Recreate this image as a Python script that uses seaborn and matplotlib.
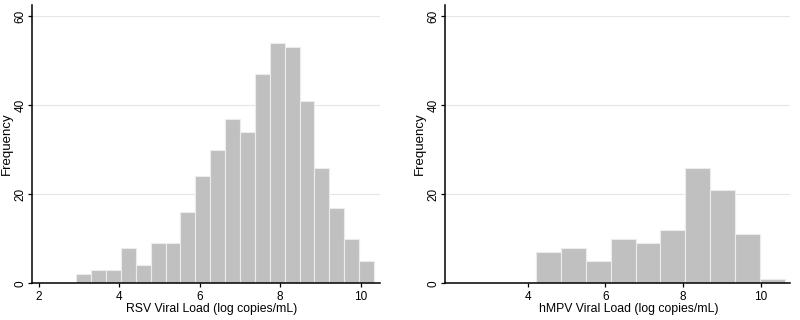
import matplotlib
matplotlib.use("Agg")
import matplotlib.pyplot as plt
import numpy as np
import pandas as pd
import seaborn as sns

# bar counts
rsv_counts = [2, 3, 3, 8, 4, 9, 9, 16, 24, 30, 37, 34, 47, 54, 53, 41, 26, 17, 10, 5]
rsv_range = (2.93, 10.33)
hmpv_counts = [7, 8, 5, 10, 9, 12, 26, 21, 11, 1]
hmpv_range = (4.22, 10.62)

rsv_label = "RSV Viral Load (log copies/mL)"
hmpv_label = "hMPV Viral Load (log copies/mL)"
y_ticks = [0, 20, 40, 60]
rsv_xticks = [2, 4, 6, 8, 10]
hmpv_xticks = [4, 6, 8, 10]


def draw(ax, counts, rng, xlabel, xticks, xlim, label_x):
    edges = np.linspace(rng[0], rng[1], len(counts) + 1)
    df = pd.DataFrame({"load": (edges[:-1] + edges[1:]) / 2, "n": counts})
    sns.histplot(data=df, x="load", weights="n", bins=edges.tolist(), ax=ax,
                 color="#c0c0c0", alpha=1, edgecolor="#ececec", linewidth=0.8)
    ax.set_xlim(*xlim)
    ax.set_ylim(0, 62.5)
    ax.set_yticks(y_ticks)
    ax.set_xticks(xticks)
    ax.set_yticklabels([str(t) for t in y_ticks], rotation=90, va="center")
    ax.set_xlabel(xlabel, fontsize=8.8, labelpad=0, color="black")
    ax.xaxis.label.set_x(label_x)
    ax.set_ylabel("Frequency", fontsize=9.5, labelpad=1, color="black")
    ax.grid(axis="y", color="#e6e6e6", linewidth=0.8)
    ax.grid(axis="x", visible=False)
    ax.set_axisbelow(True)
    for side in ("top", "right"):
        ax.spines[side].set_visible(False)
    for side in ("left", "bottom"):
        ax.spines[side].set_color("black")
        ax.spines[side].set_linewidth(1.1)
    ax.tick_params(axis="both", bottom=True, left=True, direction="out",
                   length=3, width=0.9, color="black", labelcolor="black",
                   labelsize=8.5)
    ax.tick_params(axis="x", pad=2.5)
    ax.tick_params(axis="y", pad=1)


sns.set_style("white")
plt.rcParams["font.family"] = ["Liberation Sans", "DejaVu Sans"]

fig = plt.figure(figsize=(8, 3.2), dpi=100)
ax1 = fig.add_axes([0.04, 0.115, 0.435, 0.869])
ax2 = fig.add_axes([0.556, 0.115, 0.431, 0.869])

draw(ax1, rsv_counts, rsv_range, rsv_label, rsv_xticks, (1.83, 10.48), 0.516)
draw(ax2, hmpv_counts, hmpv_range, hmpv_label, hmpv_xticks, (1.86, 10.75), 0.533)

fig.savefig("out.png", dpi=100)
